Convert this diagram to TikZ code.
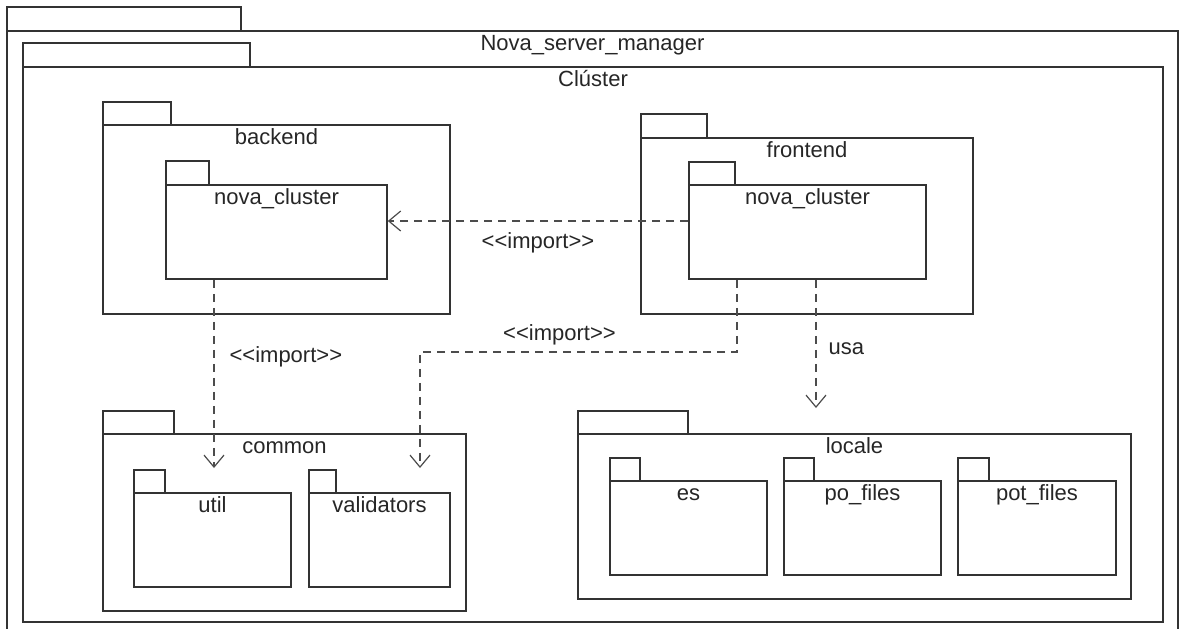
\documentclass[tikz,border=0pt]{standalone}
\usepackage{fontspec}
\setmainfont{Liberation Sans}
\usetikzlibrary{arrows.meta,fit,positioning}

\tikzset{
  pkg/.style={draw=black!80, line width=0.8pt, inner sep=0pt},
  pkgname/.style={anchor=base, inner sep=0pt, yshift=-10pt, text=black!85},
  imp/.style={draw=black!70, line width=0.6pt, dash pattern=on 4pt off 3pt,
    -{Straight Barb[length=6pt,width=10pt,line width=0.6pt]}},
  deplbl/.style={inner sep=0pt, text=black!85}
}
\newcommand{\stereo}[1]{<\kern0pt<#1>\kern0pt>}

\begin{document}
\begin{tikzpicture}[x=0.5pt, y=-0.5pt, font=\fontsize{11}{13}\selectfont]
  \useasboundingbox (0,0) rectangle (1180,628);
  % outer package
  \node[pkg, fit={(7,7) (241,31)}] (mgrtab) {};
  \node[pkg, fit={(7,31) (1178,660)}] (mgr) {};
  \node[pkgname] at (mgr.north) {Nova\_server\_manager};
  % cluster
  \node[pkg, fit={(23,43) (250,67)}] (clutab) {};
  \node[pkg, fit={(23,67) (1163,622)}] (clu) {};
  \node[pkgname] at (clu.north) {Clúster};
  % backend
  \node[pkg, fit={(103,102) (171,125)}] (bktab) {};
  \node[pkg, fit={(103,125) (450,314)}] (bk) {};
  \node[pkgname] at (bk.north) {backend};
  \node[pkg, fit={(166,161) (209,185)}] (bnctab) {};
  \node[pkg, fit={(166,185) (387,279)}] (bnc) {};
  \node[pkgname] at (bnc.north) {nova\_cluster};
  % frontend
  \node[pkg, fit={(641,114) (707,138)}] (fetab) {};
  \node[pkg, fit={(641,138) (973,314)}] (fe) {};
  \node[pkgname] at (fe.north) {frontend};
  \node[pkg, fit={(689,162) (735,185)}] (fnctab) {};
  \node[pkg, fit={(689,185) (926,279)}] (fnc) {};
  \node[pkgname] at (fnc.north) {nova\_cluster};
  % common
  \node[pkg, fit={(103,411) (174,434)}] (cmtab) {};
  \node[pkg, fit={(103,434) (466,611)}] (cm) {};
  \node[pkgname] at (cm.north) {common};
  \node[pkg, fit={(134,470) (165,493)}] (utiltab) {};
  \node[pkg, fit={(134,493) (291,587)}] (util) {};
  \node[pkgname] at (util.north) {util};
  \node[pkg, fit={(309,470) (336,493)}] (valtab) {};
  \node[pkg, fit={(309,493) (450,587)}] (val) {};
  \node[pkgname] at (val.north) {validators};
  % locale
  \node[pkg, fit={(578,411) (688,434)}] (loctab) {};
  \node[pkg, fit={(578,434) (1131,599)}] (loc) {};
  \node[pkgname] at (loc.north) {locale};
  \node[pkg, fit={(610,458) (640,481)}] (estab) {};
  \node[pkg, fit={(610,481) (767,575)}] (es) {};
  \node[pkgname] at (es.north) {es};
  \node[pkg, fit={(784,458) (814,481)}] (potab) {};
  \node[pkg, fit={(784,481) (941,575)}] (po) {};
  \node[pkgname] at (po.north) {po\_files};
  \node[pkg, fit={(958,458) (989,481)}] (pottab) {};
  \node[pkg, fit={(958,481) (1116,575)}] (pot) {};
  \node[pkgname] at (pot.north) {pot\_files};

  % dependencies
  \coordinate (utilin) at (214,468);
  \coordinate (valin) at (420,468);
  \coordinate (valbend) at (737,352);
  \coordinate (locin) at (816,408);
  \draw[imp] ([yshift=5.5pt]fnc.west) -- ([yshift=5.5pt]bnc.east)
    node[deplbl, midway, below=5.5pt] {\stereo{import}};
  \draw[imp] (bnc.south -| utilin) -- (utilin)
    node[deplbl, pos=0.41, right=7.5pt] {\stereo{import}};
  \draw[imp] (fnc.south -| valbend) -- (valbend) -| (valin)
    node[deplbl, pos=0.28, above=3pt] {\stereo{import}};
  \draw[imp] (fnc.south -| locin) -- (locin)
    node[deplbl, pos=0.54, right=6pt] {usa};
\end{tikzpicture}
\end{document}
